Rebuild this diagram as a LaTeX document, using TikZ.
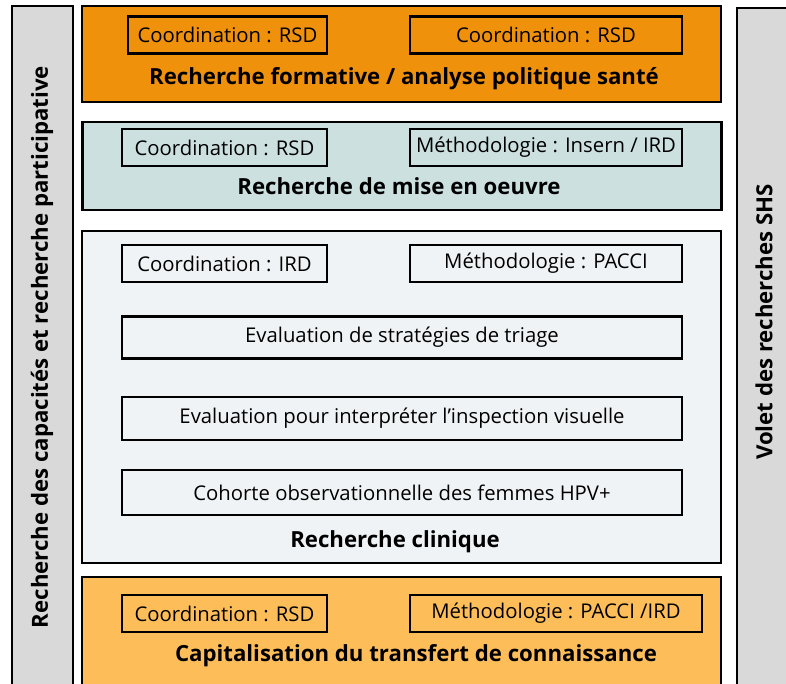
\documentclass[tikz,border=0pt]{standalone}
\usepackage{fontspec}
\setmainfont{Open Sans}
\usetikzlibrary{positioning}
\definecolor{formcol}{RGB}{240,145,12}
\definecolor{miscol}{RGB}{204,224,224}
\definecolor{clincol}{RGB}{240,243,245}
\definecolor{capcol}{RGB}{253,190,90}
\definecolor{sidecol}{RGB}{217,217,217}
\newcommand{\txt}{\fontsize{20.3}{24}\selectfont}
\newcommand{\btxt}{\fontsize{22.2}{26}\selectfont\bfseries}

\begin{document}
\begin{tikzpicture}
	[x=1pt,y=-1pt,line width=2.2pt,
	band/.style={shape=rectangle,draw,minimum width=639pt,inner sep=0pt},
	tag/.style={shape=rectangle,draw,inner sep=0pt,minimum height=37pt,font=\txt},
	wide/.style={tag,minimum width=560pt,minimum height=42pt},
	title/.style={font=\btxt,inner sep=0pt},
	side/.style={shape=rectangle,draw,fill=sidecol,minimum width=61pt,minimum height=700pt,inner sep=0pt}]
	\useasboundingbox (0,0) rectangle (786,683);
	% side bars
	\node[side] (capa) at (42.5,356) {};
	\node[side] (shs) at (767.5,358) {};
	\node[title,rotate=90] (capat) at (42,347) {Recherche des capacités et recherche participative};
	\node[title,rotate=90] (shst) at (764,322) {Volet des recherches SHS};
	% formative
	\node[band,fill=formcol,minimum height=96pt] (form) at (401.5,54) {};
	\node[tag,minimum width=199pt] (form1) at (227.5,35) {Coordination : RSD};
	\node[tag,minimum width=272pt] (form2) at (546,35) {Coordination : RSD};
	\node[title] (formt) at (404,79) {Recherche formative / analyse politique santé};
	% mise en oeuvre
	\node[band,fill=miscol,minimum height=88pt] (mise) at (402,166) {};
	\node[tag,minimum width=205pt] (mise1) at (224.5,147.5) {Coordination : RSD};
	\node[tag,minimum width=272pt] (mise2) at (546,147.5) {Méthodologie : Insern / IRD};
	\node[title] (miset) at (399,186) {Recherche de mise en oeuvre};
	% clinique
	\node[band,fill=clincol,minimum height=332pt] (clin) at (401.5,397) {};
	\node[tag,minimum width=205pt] (clin1) at (224.5,263.5) {Coordination : IRD};
	\node[tag,minimum width=272pt] (clin2) at (546,263.5) {Méthodologie : PACCI};
	\node[wide] (triage) at (402,337.5) {Evaluation de stratégies de triage};
	\node[wide,minimum height=43pt] (visu) at (402,418.5) {Evaluation pour interpréter l’inspection visuelle};
	\node[wide,minimum height=45pt] (cohorte) at (402,492.5) {Cohorte observationnelle des femmes HPV+};
	\node[title] (clint) at (395,542) {Recherche clinique};
	% capitalisation
	\node[band,fill=capcol,minimum height=140pt] (capi) at (401.5,647) {};
	\node[tag,minimum width=205pt] (capi1) at (224.5,613.5) {Coordination : RSD};
	\node[tag,minimum width=292pt] (capi2) at (556,613.5) {Méthodologie : PACCI /IRD};
	\node[title] (capit) at (416,656) {Capitalisation du transfert de connaissance};
\end{tikzpicture}
\end{document}
